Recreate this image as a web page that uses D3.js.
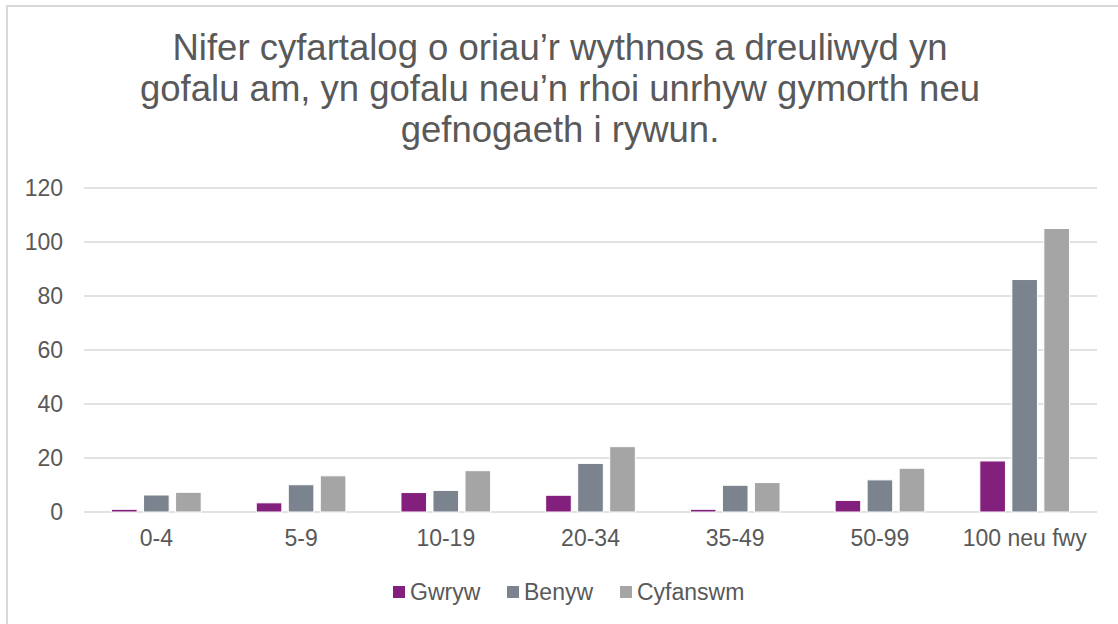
<!DOCTYPE html>
<html>
<head>
<meta charset="utf-8">
<script src="https://cdn.jsdelivr.net/npm/d3@7"></script>
<style>
  body { margin: 0; background: #fff; }
  svg { display: block; font-family: "Liberation Sans", Arial, sans-serif; }
</style>
</head>
<body>
<svg id="chart"></svg>
<script>
// data
const categories = ["0-4", "5-9", "10-19", "20-34", "35-49", "50-99", "100 neu fwy"];
const seriesNames = ["Gwryw", "Benyw", "Cyfanswm"];
const gwryw = [1, 3.4, 7.2, 6.2, 1, 4.3, 18.9];
const benyw = [6.3, 10.1, 8, 18, 9.9, 11.9, 86.1];
const cyfanswm = [7.3, 13.4, 15.3, 24.2, 10.9, 16.2, 105];
const yTicks = [0, 20, 40, 60, 80, 100, 120];
const titleLines = [
  "Nifer cyfartalog o oriau’r wythnos a dreuliwyd yn",
  "gofalu am, yn gofalu neu’n rhoi unrhyw gymorth neu",
  "gefnogaeth i rywun."
];

const colors = ["#831f7c", "#7b848e", "#a5a5a5"];
const seriesValues = [gwryw, benyw, cyfanswm];

const W = 1118, H = 624;
const margin = { top: 188, right: 21, bottom: 112, left: 84 };
const width = W - margin.left - margin.right;
const height = H - margin.top - margin.bottom;

const svg = d3.select("#chart").attr("width", W).attr("height", H);

// chart frame
svg.append("path")
  .attr("d", `M7,${H} L7,6 L${W},6`)
  .attr("fill", "none")
  .attr("stroke", "#d9d9d9")
  .attr("stroke-width", 2);

// title
svg.append("text")
  .attr("text-anchor", "middle")
  .attr("fill", "#595959")
  .style("font-size", "36.5px")
  .selectAll("tspan")
  .data(titleLines)
  .join("tspan")
  .attr("x", 560)
  .attr("y", (d, i) => 60 + i * 41)
  .text(d => d);

const g = svg.append("g")
  .attr("transform", "translate(" + margin.left + "," + margin.top + ")");

const x0 = d3.scaleBand().domain(categories).range([0, width]);
const x1 = d3.scaleBand().domain(seriesNames).range([0, x0.bandwidth()])
  .paddingInner(0.2).paddingOuter(0.86);
const y = d3.scaleLinear().domain([0, 120]).range([height, 0]);

// gridlines
g.append("g")
  .selectAll("line")
  .data(yTicks)
  .join("line")
  .attr("x1", 0)
  .attr("x2", width)
  .attr("y1", d => y(d))
  .attr("y2", d => y(d))
  .attr("stroke", "#d9d9d9")
  .attr("stroke-width", 1.5);

// y axis labels
const yAxis = g.append("g")
  .call(d3.axisLeft(y).tickValues(yTicks).tickSize(0).tickPadding(21));
yAxis.select(".domain").remove();
yAxis.selectAll("text")
  .attr("fill", "#595959")
  .style("font-size", "23px")
  .style("font-family", "Liberation Sans, Arial, sans-serif");

// bars
const groups = g.append("g")
  .selectAll("g")
  .data(categories)
  .join("g")
  .attr("transform", d => "translate(" + x0(d) + ",0)");

groups.selectAll("rect")
  .data((c, ci) => seriesNames.map((s, si) => ({ s: s, v: seriesValues[si][ci], color: colors[si] })))
  .join("rect")
  .attr("x", d => x1(d.s))
  .attr("width", x1.bandwidth())
  .attr("y", d => y(d.v))
  .attr("height", d => height - y(d.v))
  .attr("fill", d => d.color)
  .attr("stroke", "#fff")
  .attr("stroke-width", 1);

// x axis labels
const xAxis = g.append("g")
  .attr("transform", "translate(0," + height + ")")
  .call(d3.axisBottom(x0).tickSize(0).tickPadding(18));
xAxis.select(".domain").remove();
xAxis.selectAll("text")
  .attr("fill", "#595959")
  .style("font-size", "23px")
  .style("font-family", "Liberation Sans, Arial, sans-serif");

// legend
const legendX = [393, 507, 620];
const legend = svg.append("g")
  .selectAll("g")
  .data(seriesNames)
  .join("g")
  .attr("transform", (d, i) => "translate(" + legendX[i] + ",586)");
legend.append("rect")
  .attr("width", 12)
  .attr("height", 12)
  .attr("fill", (d, i) => colors[i]);
legend.append("text")
  .attr("x", 17)
  .attr("y", 14)
  .attr("fill", "#595959")
  .style("font-size", "23px")
  .text(d => d);
</script>
</body>
</html>
